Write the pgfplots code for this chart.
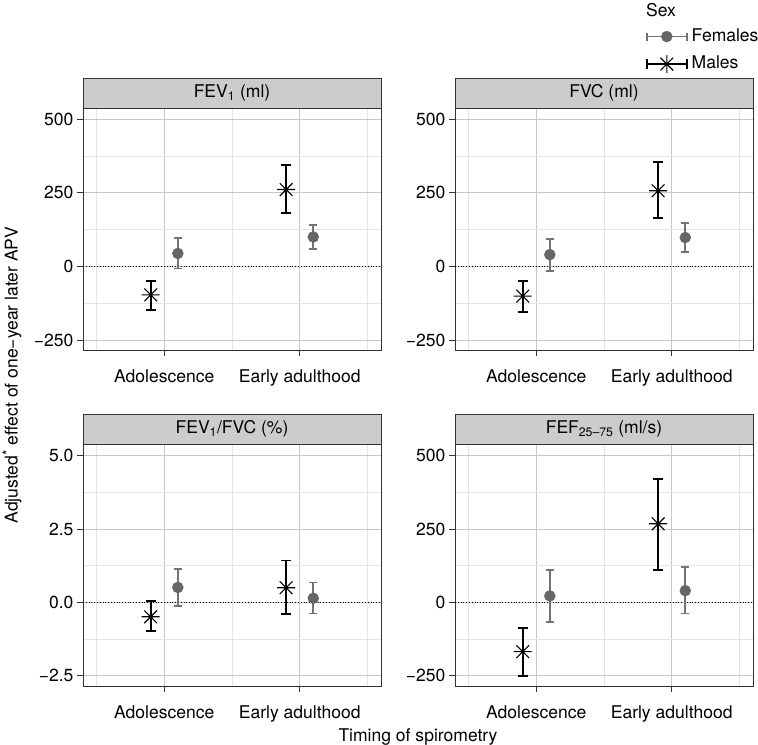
\documentclass[border=0pt]{standalone}
\usepackage{pgfplots}
\pgfplotsset{compat=1.18}
\usepackage{fontspec}
\setmainfont{TeX Gyre Heros}
\definecolor{fem}{HTML}{666666}
\definecolor{femb}{HTML}{737373}
\definecolor{gmaj}{HTML}{C8C8C8}
\definecolor{gmin}{HTML}{E4E4E4}
\definecolor{stripc}{HTML}{CCCCCC}
\definecolor{frame}{HTML}{333333}
\pgfdeclareplotmark{ggast}{%
  \pgfpathmoveto{\pgfqpoint{-\pgfplotmarksize}{0pt}}\pgfpathlineto{\pgfqpoint{\pgfplotmarksize}{0pt}}%
  \pgfpathmoveto{\pgfqpoint{0pt}{-\pgfplotmarksize}}\pgfpathlineto{\pgfqpoint{0pt}{\pgfplotmarksize}}%
  \pgfpathmoveto{\pgfqpoint{-0.7071\pgfplotmarksize}{-0.7071\pgfplotmarksize}}\pgfpathlineto{\pgfqpoint{0.7071\pgfplotmarksize}{0.7071\pgfplotmarksize}}%
  \pgfpathmoveto{\pgfqpoint{-0.7071\pgfplotmarksize}{0.7071\pgfplotmarksize}}\pgfpathlineto{\pgfqpoint{0.7071\pgfplotmarksize}{-0.7071\pgfplotmarksize}}%
  \pgfusepathqstroke}
\newcommand{\fs}{\fontsize{17.6}{20}\selectfont}
\pgfplotsset{
  panel/.style={
    scale only axis, width=298bp, height=242bp,
    xmin=0.4, xmax=2.6,
    xtick={1,2}, xticklabels={Adolescence, Early adulthood},
    minor xtick={0.5,1.5,2.5},
    grid=both,
    major grid style={gmaj, line width=0.9bp},
    minor grid style={gmin, line width=0.7bp},
    tick align=outside, tick pos=left,
    major tick length=6bp, minor tick length=0pt,
    tick style={frame, line width=0.9bp},
    axis line style={frame, line width=0.9bp},
    ticklabel style={font=\fs, text=black},
    xticklabel style={yshift=-10bp},
    clip=false,
  },
  fems/.style={only marks, mark=*, mark size=5.5bp, color=fem, forget plot,
    error bars/.cd, y dir=both, y explicit, error mark=-,
    error bar style={femb, line width=1.8bp},
    error mark options={rotate=90, femb, line width=1.8bp, mark size=4bp}},
  mals/.style={only marks, mark=ggast, mark size=9bp, color=black, line width=1.1bp, forget plot,
    error bars/.cd, y dir=both, y explicit, error mark=-,
    error bar style={black, line width=1.8bp},
    error mark options={rotate=90, black, line width=1.8bp, mark size=5bp}},
  zline/.style={black, dotted, line width=0.8bp, forget plot},
}
\begin{document}
\begin{tikzpicture}[font=\fs]
\path[use as bounding box] (0,0) rectangle (758bp,745bp);
% FEV1
\begin{axis}[panel, name=a1, at={(83bp,395bp)}, anchor=south west,
  ymin=-284, ymax=538, ytick={-250,0,250,500}, yticklabels={−250,0,250,500},
  minor ytick={-125,125,375}]
\addplot[zline] coordinates {(0.4,0) (2.6,0)};
\addplot[mals] coordinates {(0.9,-97) += (0,47) -= (0,52) (1.9,261) += (0,83) -= (0,81)};
\addplot[fems] coordinates {(1.1,44) += (0,53) -= (0,51) (2.1,100) += (0,40) -= (0,41)};
\end{axis}
% FVC
\begin{axis}[panel, name=a2, at={(455bp,395bp)}, anchor=south west,
  ymin=-284, ymax=538, ytick={-250,0,250,500}, yticklabels={−250,0,250,500},
  minor ytick={-125,125,375},
  legend style={at={(axis description cs:0.64,1.331)}, anchor=north west, draw=none, fill=none,
    inner sep=0pt, row sep=10bp, font=\fs,
    nodes={inner sep=0pt, text height=13bp, text depth=4bp},
    /tikz/every odd column/.append style={column sep=4bp}},
  legend cell align=left]
\addplot[zline] coordinates {(0.4,0) (2.6,0)};
\addplot[mals] coordinates {(0.9,-101) += (0,52) -= (0,55) (1.9,257) += (0,97) -= (0,94)};
\addplot[fems] coordinates {(1.1,40) += (0,52) -= (0,55) (2.1,98) += (0,50) -= (0,49)};
\addlegendimage{legend image code/.code={
  \draw[femb, line width=1.8bp] (0bp,0bp) -- (40bp,0bp) (0bp,-4bp) -- (0bp,4bp) (40bp,-4bp) -- (40bp,4bp);
  \draw[fem, mark=*, mark size=5.5bp] plot coordinates {(20bp,0bp)};}}
\addlegendentry{Females}
\addlegendimage{legend image code/.code={
  \draw[black, line width=1.8bp] (0bp,0bp) -- (40bp,0bp) (0bp,-5bp) -- (0bp,5bp) (40bp,-5bp) -- (40bp,5bp);
  \draw[black, line width=1.1bp, mark=ggast, mark size=9bp] plot coordinates {(20bp,0bp)};}}
\addlegendentry{Males}
\end{axis}
% FEV1/FVC
\begin{axis}[panel, name=a3, at={(83bp,59bp)}, anchor=south west,
  ymin=-2.85, ymax=5.40, ytick={-2.5,0,2.5,5}, yticklabels={−2.5,0.0,2.5,5.0},
  minor ytick={-1.25,1.25,3.75}]
\addplot[zline] coordinates {(0.4,0) (2.6,0)};
\addplot[mals] coordinates {(0.9,-0.49) += (0,0.55) -= (0,0.49) (1.9,0.50) += (0,0.93) -= (0,0.90)};
\addplot[fems] coordinates {(1.1,0.51) += (0,0.63) -= (0,0.62) (2.1,0.14) += (0,0.54) -= (0,0.52)};
\end{axis}
% FEF25-75
\begin{axis}[panel, name=a4, at={(455bp,59bp)}, anchor=south west,
  ymin=-285, ymax=540, ytick={-250,0,250,500}, yticklabels={−250,0,250,500},
  minor ytick={-125,125,375}]
\addplot[zline] coordinates {(0.4,0) (2.6,0)};
\addplot[mals] coordinates {(0.9,-168) += (0,81) -= (0,82) (1.9,268) += (0,152) -= (0,157)};
\addplot[fems] coordinates {(1.1,22) += (0,88) -= (0,89) (2.1,40) += (0,81) -= (0,78)};
\end{axis}
% strips
\foreach \a/\t in {a1/{FEV\textsubscript{1} (ml)}, a2/{FVC (ml)}, a3/{FEV\textsubscript{1}/FVC (\%)}, a4/{FEF\textsubscript{25–75} (ml/s)}}{
  \draw[fill=stripc, draw=frame, line width=0.9bp] (\a.north west) rectangle ([yshift=29.5bp]\a.north east);
  \node at ([yshift=14.75bp]\a.north) {\t};
}
\node[anchor=base west, inner sep=0pt] at (646bp,728bp) {Sex};
\node[rotate=90] at (12bp,370bp) {Adjusted\raisebox{5bp}{\fontsize{14}{14}\selectfont *} effect of one−year later APV};
\node[anchor=base, inner sep=0pt] at (418bp,3.7bp) {Timing of spirometry};
\end{tikzpicture}
\end{document}
